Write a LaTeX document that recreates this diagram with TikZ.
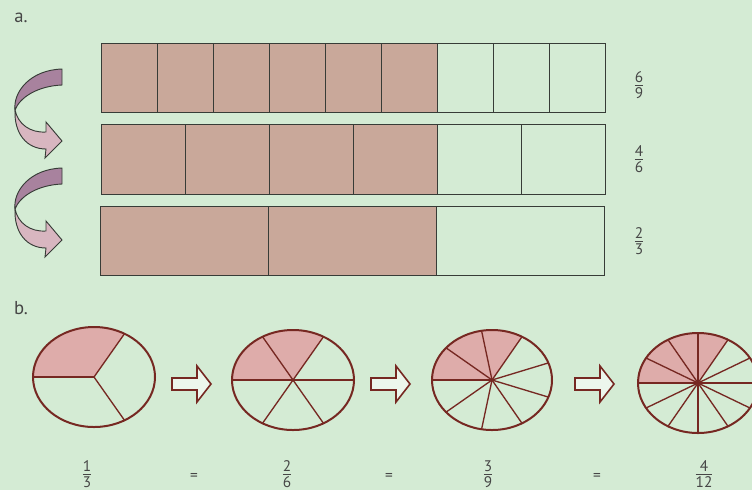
\documentclass[tikz,border=0pt]{standalone}
\usepackage{fontspec}
\setmainfont{PT Sans}
\usetikzlibrary{shapes.geometric}
\definecolor{bg}{RGB}{212,235,212}
\definecolor{barshade}{RGB}{201,168,154}
\definecolor{pieshade}{RGB}{222,172,170}
\definecolor{pieline}{RGB}{118,40,34}
\definecolor{gridline}{RGB}{55,60,55}
\definecolor{txt}{RGB}{70,70,70}
\definecolor{ribdark}{RGB}{168,130,158}
\definecolor{riblight}{RGB}{216,182,192}
\newcommand{\myfr}[2]{{\setlength{\tabcolsep}{0pt}\renewcommand{\arraystretch}{1}\begin{tabular}{@{}c@{}}#1\\[-2.2pt]\hline#2\end{tabular}}}
\begin{document}
\begin{tikzpicture}[x=0.75pt,y=-0.75pt,
  cell/.style={draw=gridline,line width=0.7pt},
  lab/.style={text=txt,font=\fontsize{14}{16}\selectfont,inner sep=0pt},
  fraclab/.style={text=txt,font=\fontsize{11.5}{13.8}\selectfont,inner sep=0pt},
  spoke/.style={draw=pieline,line width=1pt},
  pie/.style={ellipse,draw=pieline,line width=1.5pt,inner sep=0pt},
  ribbon/.pic={
    \filldraw[fill=ribdark,draw=gridline,line width=0.7pt]
      (62,69) .. controls (30,70) and (13,92) .. (15,110)
      .. controls (20,97) and (38,86) .. (62,85) -- cycle;
    \filldraw[fill=riblight,draw=gridline,line width=0.7pt]
      (15,110) .. controls (18,124) and (30,133) .. (46,132)
      -- (46,122) -- (62,141) -- (45,158) -- (46,149)
      .. controls (27,149) and (14,134) .. (15,110) -- cycle;
  },
  hollow/.pic={
    \filldraw[fill=white!55!bg,draw=pieline,line width=1.2pt,line join=miter]
      (0,-6) -- (25,-6) -- (25,-18) -- (39,0) -- (25,18) -- (25,6) -- (0,6) -- cycle;
  }]
\useasboundingbox (0,0) rectangle (752,490);
\fill[bg] (0,0) rectangle (752,490);
\clip (0,0) rectangle (752,490);

% labels
\node[lab] (la) at (21,18) {a.};
\node[lab] (lb) at (21,308) {b.};

% part a bars
\fill[barshade] (101,43) rectangle (437,112);
\foreach \x in {101,157,...,549} \draw[cell] (\x,43) rectangle ++(56,69);
\fill[barshade] (101,124) rectangle (437,194);
\foreach \x in {101,185,...,521} \draw[cell] (\x,124) rectangle ++(84,70);
\fill[barshade] (100,206) rectangle (436,275);
\foreach \x in {100,268,436} \draw[cell] (\x,206) rectangle ++(168,69);

\node[fraclab] (f69) at (639,87) {\myfr{6}{9}};
\node[fraclab] (f46) at (639,161) {\myfr{4}{6}};
\node[fraclab] (f23) at (639,243) {\myfr{2}{3}};

% curved arrows
\pic (r1) at (0,0) {ribbon};
\pic (r2) at (0,99) {ribbon};

% part b pies
\foreach \cx/\cy/\rx/\st/\nm in {94/377/61/120/e1, 293/380/61/60/e2, 492/380/60/40/e3, 698/383/60/30/e4}{
  \coordinate (\nm c) at (\cx,\cy);
  \fill[pieshade] (\nm c) -- +(180:\rx*0.75pt and 37.5pt)
    arc[start angle=180,end angle=60,x radius=\rx*0.75pt,y radius=37.5pt] -- cycle;
  \pgfmathtruncatemacro{\nx}{180-\st}
  \foreach \a in {180,\nx,...,-179} \draw[spoke] (\nm c) -- +(\a:\rx*0.75pt and 37.5pt);
  \node[pie,minimum width=\rx*1.5pt,minimum height=75pt] (\nm) at (\nm c) {};
}

% hollow arrows
\pic (h1) at (172,384) {hollow};
\pic (h2) at (371,384) {hollow};
\pic (h3) at (575,384) {hollow};

% bottom fractions
\node[fraclab] (g13) at (87,476) {\myfr{1}{3}};
\node[fraclab] (q1) at (194,477) {=};
\node[fraclab] (g26) at (287,476) {\myfr{2}{6}};
\node[fraclab] (q2) at (389,477) {=};
\node[fraclab] (g39) at (488,476) {\myfr{3}{9}};
\node[fraclab] (q3) at (597,477) {=};
\node[fraclab] (g412) at (704,476) {\myfr{4}{12}};
\end{tikzpicture}
\end{document}
